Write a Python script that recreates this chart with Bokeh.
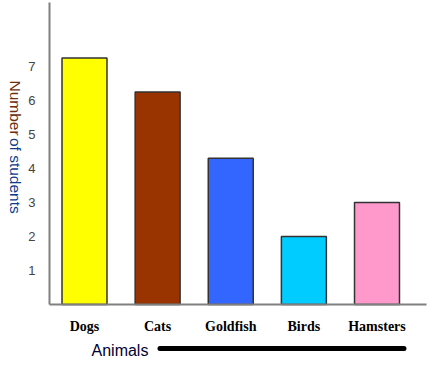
import math
from bokeh.plotting import figure
from bokeh.models import Range1d, FixedTicker, Label, Arrow, ColumnDataSource
from bokeh.embed import file_html
from bokeh.resources import INLINE

animals = ["Dogs", "Cats", "Goldfish", "Birds", "Hamsters"]
students = [7.25, 6.25, 4.3, 2, 3]
colors = ["#FFFF00", "#993300", "#3366FF", "#00CCFF", "#FF99CC"]
y_ticks = [1, 2, 3, 4, 5, 6, 7]

idx = list(range(len(animals)))
src = ColumnDataSource(dict(x=idx, top=students, color=colors, name=animals))

X0, X1 = -0.4786, 4.677      # extent of the drawn axes (x)
Y1 = 8.882                   # top of the drawn y axis

p = figure(width=428, height=362, output_backend="svg", toolbar_location=None,
           x_range=Range1d(-1.1487, 4.7043), y_range=Range1d(-1.7059, 8.941),
           min_border_left=0, min_border_right=0, min_border_top=0, min_border_bottom=0)
p.outline_line_color = None
p.grid.visible = False
p.background_fill_color = "white"
p.border_fill_color = "white"

p.vbar(x="x", top="top", bottom=0, width=0.615, fill_color="color", source=src,
       line_color="#333333", line_width=1.5)

xa = p.xaxis[0]
xa.fixed_location = 0
xa.bounds = (X0, X1)
xa.ticker = FixedTicker(ticks=idx)
xa.major_label_overrides = {i: n for i, n in zip(idx, animals)}
xa.major_tick_line_color = None
xa.minor_tick_line_color = None
xa.axis_line_color = "#808080"
xa.axis_line_width = 2
xa.major_label_text_font = "Liberation Serif"
xa.major_label_text_font_style = "bold"
xa.major_label_text_font_size = "14px"
xa.major_label_text_color = "black"
xa.major_label_standoff = 9

ya = p.yaxis[0]
ya.fixed_location = X0
ya.bounds = (0, Y1)
ya.ticker = FixedTicker(ticks=y_ticks)
ya.major_tick_line_color = None
ya.minor_tick_line_color = None
ya.axis_line_color = "#808080"
ya.axis_line_width = 2
ya.major_label_text_font = "Liberation Sans"
ya.major_label_text_font_size = "13px"
ya.major_label_text_color = "#444444"
ya.major_label_standoff = 8

# y axis title, reading top to bottom
p.add_layout(Label(x=15, x_units="screen", y=6.59, text="Number", angle=-math.pi / 2,
                   text_align="left", text_baseline="middle",
                   text_font="Liberation Sans", text_font_size="15.5px", text_color="#6e300c"))
p.add_layout(Label(x=15, x_units="screen", y=6.59 - 57.5 / 34, text="of students", angle=-math.pi / 2,
                   text_align="left", text_baseline="middle",
                   text_font="Liberation Sans", text_font_size="15.5px", text_color="#0a3a8a"))

# x axis title with thick bar
p.add_layout(Label(x=91, x_units="screen", y=-1.353, text="Animals",
                   text_align="left", text_baseline="middle",
                   text_font="Liberation Sans", text_font_size="16px", text_color="#000033"))
p.add_layout(Arrow(end=None, x_start=1.0325, x_end=4.369, y_start=-1.294, y_end=-1.294,
                   line_color="black", line_width=5, line_cap="round"))

open("out.html", "w").write(file_html(p, INLINE))
